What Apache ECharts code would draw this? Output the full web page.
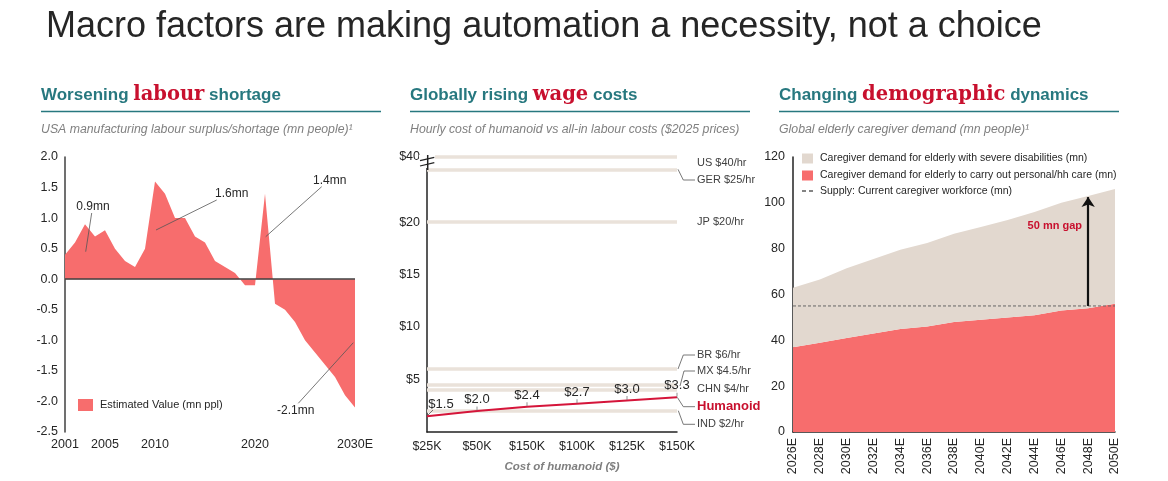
<!DOCTYPE html>
<html>
<head>
<meta charset="utf-8">
<script src="https://cdn.jsdelivr.net/npm/echarts@6/dist/echarts.min.js"></script>
<style>
  html, body { margin: 0; padding: 0; background: #fff; }
  #chart { width: 1168px; height: 481px; }
</style>
</head>
<body>
<div id="chart"></div>
<script>
// --- panel 1: USA manufacturing labour surplus/shortage (mn people)
const labourYears = ['2001','2002','2003','2004','2005','2006','2007','2008','2009','2010',
  '2011','2012','2013','2014','2015','2016','2017','2018','2019','2020',
  '2021','2022','2023','2024','2025','2026','2027','2028','2029','2030E'];
const labourGap = [0.4, 0.6, 0.9, 0.7, 0.8, 0.5, 0.3, 0.2, 0.5, 1.6,
  1.4, 1.0, 1.0, 0.7, 0.6, 0.3, 0.2, 0.1, -0.1, -0.1,
  1.4, -0.4, -0.5, -0.7, -1.0, -1.2, -1.4, -1.6, -1.9, -2.1];
const labourYearLabels = ['2001', '2005', '2010', '2020', '2030E'];

// --- panel 2: hourly cost of humanoid vs all-in labour costs
const humanoidCost = ['$25K', '$50K', '$150K', '$100K', '$125K', '$150K'];
const humanoidHourly = [1.5, 2.0, 2.4, 2.7, 3.0, 3.3];
const wageCountries = ['US $40/hr', 'GER $25/hr', 'JP $20/hr', 'BR $6/hr', 'MX $4.5/hr', 'CHN $4/hr', 'IND $2/hr'];
const wageHourly = [40, 25, 20, 6, 4.5, 4, 2];
const wageTicks = [5, 10, 15, 20, 40];

// --- panel 3: global elderly caregiver demand (mn people)
const demandYears = ['2026E','2028E','2030E','2032E','2034E','2036E','2038E','2040E','2042E','2044E','2046E','2048E','2050E'];
const personalCare = [37, 39, 41, 43, 45, 46, 48, 49, 50, 51, 53, 54, 56];
const severeDisability = [26, 27.5, 30.5, 32.5, 34.5, 36.5, 38.5, 40.5, 42.5, 45, 47, 49, 50];
const supplyWorkforce = [55, 55, 55, 55, 55, 55, 55, 55, 55, 55, 55, 55, 55];
const gapYear = '2048E';
const gapFrom = 55, gapTo = 102.5;

const TEAL = '#27787F', CRIMSON = '#C8102E', SALMON = '#F76D6D', BEIGE = '#E2D8CF', BAND = '#EAE2DA';
const FONT = 'Liberation Sans, Arial, sans-serif';
const SEVERE = 'Caregiver demand for elderly with severe disabilities (mn)';
const PERSONAL = 'Caregiver demand for elderly to carry out personal/hh care (mn)';
const SUPPLY = 'Supply: Current caregiver workforce (mn)';

// broken y axis on the wage panel: everything above $25 is squeezed
function brk(v) { return v <= 25 ? v : 25 + (v - 25) * 0.08; }

const chart = echarts.init(document.getElementById('chart'));

function sectionTitle(x, pre, key, post) {
  return {
    type: 'text', left: x, top: 85,
    style: {
      text: '{a|' + pre + '}{b|' + key + '}{a|' + post + '}',
      rich: {
        a: { fontFamily: FONT, fontWeight: 'bold', fontSize: 17, fill: TEAL },
        b: { fontFamily: 'DejaVu Serif, Georgia, serif', fontWeight: 'bold', fontSize: 19.5, fill: CRIMSON }
      }
    }
  };
}
function rule(x1, x2) {
  return { type: 'line', shape: { x1: x1, y1: 111.5, x2: x2, y2: 111.5 }, style: { stroke: TEAL, lineWidth: 1.5 } };
}
function subtitle(x, t) {
  return { type: 'text', x: x, y: 130, style: { text: t, fontFamily: FONT, fontStyle: 'italic', fontSize: 12.3, fill: '#808080', textVerticalAlign: 'middle' } };
}
function note(x, y, t, align, extra) {
  return { type: 'text', x: x, y: y, z: 10, style: Object.assign({ text: t, fontFamily: FONT, fontSize: 12, fill: '#262626', textAlign: align || 'left', textVerticalAlign: 'middle' }, extra || {}) };
}
function leader(points) {
  return { type: 'polyline', z: 10, shape: { points: points }, style: { stroke: '#555', lineWidth: 0.8, fill: null } };
}

const axisText = { fontFamily: FONT, fontSize: 12, color: '#262626' };

const option = {
  animation: false,
  textStyle: { fontFamily: FONT },
  grid: [
    { left: 65, top: 157, width: 290, height: 275 },
    { left: 427, top: 157, width: 250, height: 275 },
    { left: 793, top: 157, width: 322, height: 275 }
  ],
  xAxis: [
    {
      gridIndex: 0, type: 'category', data: labourYears, boundaryGap: false,
      axisLine: { show: false, onZero: false }, axisTick: { show: false },
      axisLabel: Object.assign({}, axisText, { fontSize: 12.5, margin: 6, interval: (i, v) => labourYearLabels.indexOf(v) >= 0 })
    },
    {
      gridIndex: 1, type: 'category', data: humanoidCost, boundaryGap: false,
      axisLine: { lineStyle: { color: '#222', width: 1.5 } }, axisTick: { show: false },
      axisLabel: Object.assign({}, axisText, { fontSize: 12.5, margin: 8 }),
      name: 'Cost of humanoid ($)', nameLocation: 'middle', nameGap: 29,
      nameTextStyle: { fontFamily: FONT, fontStyle: 'italic', fontWeight: 'bold', fontSize: 11.5, color: '#7f7f7f', padding: [0, 0, 0, 20] }
    },
    {
      gridIndex: 2, type: 'category', data: demandYears, boundaryGap: false,
      axisLine: { lineStyle: { color: '#222', width: 1.5 } }, axisTick: { show: false },
      axisLabel: Object.assign({}, axisText, { fontSize: 12.5, rotate: 90, margin: 6, interval: 0 })
    }
  ],
  yAxis: [
    {
      gridIndex: 0, type: 'value', min: -2.5, max: 2.0, interval: 0.5,
      axisLine: { show: true, lineStyle: { color: '#404040', width: 1.5 } }, axisTick: { show: false },
      splitLine: { show: false },
      axisLabel: Object.assign({}, axisText, { fontSize: 12.5, margin: 7, formatter: v => v.toFixed(1) })
    },
    {
      gridIndex: 1, type: 'value', min: 0, max: brk(40),
      axisLine: { show: true, lineStyle: { color: '#222', width: 1.5 } }, axisTick: { show: false },
      splitLine: { show: false },
      axisLabel: Object.assign({}, axisText, {
        fontSize: 12.5, margin: 7,
        customValues: wageTicks.map(brk),
        formatter: v => {
          const t = wageTicks.find(w => Math.abs(brk(w) - v) < 1e-6);
          return t === undefined ? '' : '$' + t;
        }
      })
    },
    {
      gridIndex: 2, type: 'value', min: 0, max: 120, interval: 20,
      axisLine: { show: true, lineStyle: { color: '#222', width: 1.5 } }, axisTick: { show: false },
      splitLine: { show: false },
      axisLabel: Object.assign({}, axisText, { fontSize: 12.5, margin: 8 })
    }
  ],
  legend: [
    {
      left: 78, top: 399, padding: 0, icon: 'rect', itemWidth: 15, itemHeight: 12, itemGap: 5,
      data: ['Estimated Value (mn ppl)'],
      textStyle: { fontFamily: FONT, fontSize: 11, color: '#262626', padding: [0, 0, 0, 2] }
    },
    {
      left: 802, top: 153, padding: 0, orient: 'vertical', itemWidth: 11, itemHeight: 10, itemGap: 6,
      data: [{ name: SEVERE, icon: 'rect' }, { name: PERSONAL, icon: 'rect' }],
      textStyle: { fontFamily: FONT, fontSize: 10.5, color: '#262626', padding: [0, 0, 0, 2] }
    }
  ],
  series: [
    {
      name: 'Estimated Value (mn ppl)', type: 'line', xAxisIndex: 0, yAxisIndex: 0,
      data: labourGap, symbol: 'none', color: SALMON,
      lineStyle: { width: 0 }, areaStyle: { color: SALMON, opacity: 1 },
      markLine: {
        silent: true, symbol: 'none', label: { show: false },
        lineStyle: { color: '#404040', width: 1.5, type: 'solid' },
        data: [{ yAxis: 0 }]
      }
    },
    {
      name: 'wages', type: 'line', xAxisIndex: 1, yAxisIndex: 1, data: [], z: 1,
      markLine: {
        silent: true, symbol: 'none', label: { show: false },
        lineStyle: { color: BAND, width: 3.5, type: 'solid' },
        data: wageHourly.map(v => ({ yAxis: brk(v) }))
      }
    },
    {
      name: 'Humanoid', type: 'line', xAxisIndex: 1, yAxisIndex: 1, z: 5,
      data: humanoidHourly.map((v, i) => i === 0
        ? { value: v, label: { offset: [14, -4], formatter: '{v|$1.5}' } }
        : v),
      symbol: 'circle', symbolSize: 1, showSymbol: true,
      itemStyle: { color: 'rgba(0,0,0,0)' },
      lineStyle: { color: '#D5153A', width: 2 },
      label: {
        show: true, position: 'top', distance: 0,
        formatter: p => '{v|$' + p.value.toFixed(1) + '}\n{t|}',
        rich: {
          v: { fontFamily: FONT, fontSize: 13, color: '#262626', lineHeight: 14 },
          t: { width: 0.8, height: 4, backgroundColor: '#777', lineHeight: 4 }
        }
      }
    },
    {
      name: PERSONAL, type: 'line',
      xAxisIndex: 2, yAxisIndex: 2, stack: 'demand', data: personalCare, symbol: 'none',
      color: SALMON, lineStyle: { width: 0 }, areaStyle: { color: SALMON, opacity: 1 }
    },
    {
      name: SEVERE, type: 'line',
      xAxisIndex: 2, yAxisIndex: 2, stack: 'demand', data: severeDisability, symbol: 'none',
      color: BEIGE, lineStyle: { width: 0 }, areaStyle: { color: BEIGE, opacity: 1 }
    },
    {
      name: SUPPLY, type: 'line',
      xAxisIndex: 2, yAxisIndex: 2, data: supplyWorkforce, symbol: 'none', z: 4,
      color: '#555', lineStyle: { color: '#666', width: 1, type: [3, 2] },
      markLine: {
        silent: true, symbol: ['none', 'arrow'], symbolSize: 10,
        label: { show: false },
        lineStyle: { color: '#111', width: 2.2, type: 'solid' },
        data: [[{ coord: [gapYear, gapFrom] }, { coord: [gapYear, gapTo] }]]
      }
    }
  ],
  graphic: [
    { type: 'text', x: 46, y: 27, style: { text: 'Macro factors are making automation a necessity, not a choice', fontFamily: FONT, fontSize: 36, fill: '#262626', textVerticalAlign: 'middle' } },
    sectionTitle(41, 'Worsening ', 'labour', ' shortage'),
    sectionTitle(410, 'Globally rising ', 'wage', ' costs'),
    sectionTitle(779, 'Changing ', 'demographic', ' dynamics'),
    rule(41, 381), rule(410, 750), rule(779, 1119),
    subtitle(41, 'USA manufacturing labour surplus/shortage (mn people)\u00b9'),
    subtitle(410, 'Hourly cost of humanoid vs all-in labour costs ($2025 prices)'),
    subtitle(779, 'Global elderly caregiver demand (mn people)\u00b9'),

    // panel 1 call-outs
    leader([[91.7, 213], [85.7, 251.7]]), note(93, 207, '0.9mn', 'center'),
    leader([[216.7, 200], [156, 230]]), note(215, 194, '1.6mn'),
    leader([[321.7, 186.7], [265.7, 236.7]]), note(313, 181, '1.4mn'),
    leader([[298.3, 403.3], [353.3, 342.7]]), note(277, 411, '-2.1mn'),

    // panel 2 axis break
    { type: 'rect', z: 10, shape: { x: 419, y: 155, width: 16, height: 13 }, style: { fill: '#fff' } },
    { type: 'line', z: 11, shape: { x1: 427.7, y1: 155, x2: 427.7, y2: 170 }, style: { stroke: '#222', lineWidth: 1.5 } },
    { type: 'line', z: 11, shape: { x1: 420, y1: 160.7, x2: 434.3, y2: 157.3 }, style: { stroke: '#222', lineWidth: 1.2 } },
    { type: 'line', z: 11, shape: { x1: 420, y1: 166, x2: 434.3, y2: 162.7 }, style: { stroke: '#222', lineWidth: 1.2 } },

    // panel 2 wage labels
    note(697, 162.7, wageCountries[0], 'left', { fontSize: 11, fill: '#404040' }),
    note(697, 180, wageCountries[1], 'left', { fontSize: 11, fill: '#404040' }),
    note(697, 221.7, wageCountries[2], 'left', { fontSize: 11, fill: '#404040' }),
    note(697, 355, wageCountries[3], 'left', { fontSize: 11, fill: '#404040' }),
    note(697, 371, wageCountries[4], 'left', { fontSize: 11, fill: '#404040' }),
    note(697, 389, wageCountries[5], 'left', { fontSize: 11, fill: '#404040' }),
    note(697, 406.7, 'Humanoid', 'left', { fontSize: 13, fontWeight: 'bold', fill: CRIMSON }),
    note(697, 424.3, wageCountries[6], 'left', { fontSize: 11, fill: '#404040' }),
    leader([[678, 169.3], [683.3, 180], [695, 180]]),
    leader([[678, 369], [683.3, 355], [695, 355]]),
    leader([[680, 386], [684, 371], [695, 371]]),
    leader([[677.3, 397.3], [683.3, 406.7], [695, 406.7]]),
    leader([[678.3, 410.7], [683.3, 424.3], [695, 424.3]]),
    leader([[428, 415], [433, 410]]),

    // panel 3 supply legend entry and gap call-out
    { type: 'line', shape: { x1: 802, y1: 191, x2: 806, y2: 191 }, style: { stroke: '#333', lineWidth: 1.2 } },
    { type: 'line', shape: { x1: 809, y1: 191, x2: 813, y2: 191 }, style: { stroke: '#333', lineWidth: 1.2 } },
    note(820, 191, SUPPLY, 'left', { fontSize: 10.5 }),
    note(1082, 226, '50 mn gap', 'right', { fontSize: 11, fontWeight: 'bold', fill: CRIMSON })
  ]
};

chart.setOption(option);
</script>
</body>
</html>
